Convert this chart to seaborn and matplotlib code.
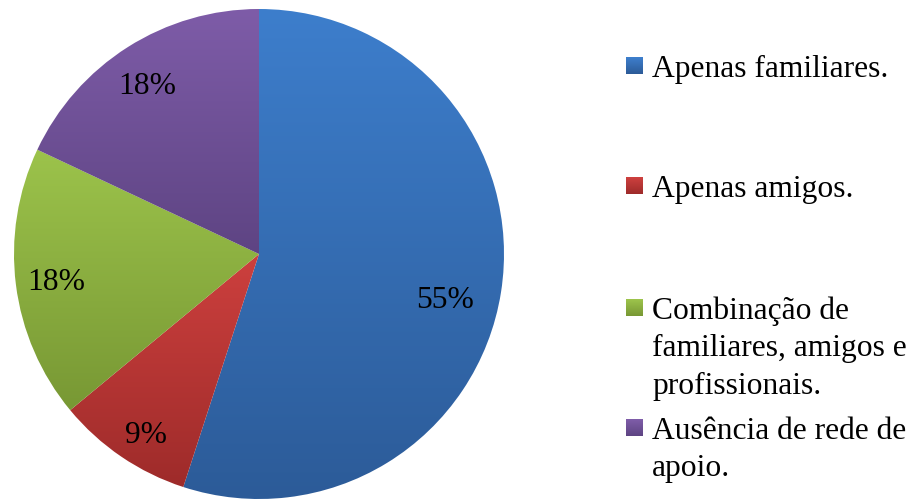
import numpy as np
import matplotlib
matplotlib.use("Agg")
import matplotlib.pyplot as plt
import seaborn as sns
from matplotlib.colors import LinearSegmentedColormap
from matplotlib.patches import Rectangle

sns.set_theme(style="white")
plt.rcParams["font.family"] = ["Liberation Serif", "DejaVu Serif"]

categories = ["Apenas familiares.", "Apenas amigos.",
              "Combinação de\nfamiliares, amigos e\nprofissionais.",
              "Ausência de rede de\napoio."]
values = [55, 9, 18, 18]
top_colors = ["#3D7ECC", "#CD403E", "#9CC34B", "#7E5CA8"]
bottom_colors = ["#2C5B98", "#9E2B2A", "#789834", "#5E4483"]

FS = 22.7
W, H = 911, 502
fig = plt.figure(figsize=(W / 100, H / 100), dpi=100)
cx, cy, R = 259, 255, 245
ax = fig.add_axes([(cx - R) / W, (H - cy - R) / H, 2 * R / W, 2 * R / H])

palette = sns.color_palette(top_colors)
wedges, texts, autotexts = ax.pie(
    values, colors=palette, startangle=90, counterclock=False,
    autopct="%1.0f%%", pctdistance=0.81, radius=1,
    textprops=dict(fontsize=FS, color="black"),
    wedgeprops=dict(linewidth=0))
ax.set_xlim(-1, 1)
ax.set_ylim(-1, 1)
ax.set_aspect("equal")
ax.axis("off")

# label placement (Excel best-fit positions, in pie-radius units)
label_pos = [(0.759, -0.184), (-0.461, -0.735), (-0.829, -0.114), (-0.457, 0.686)]
for t, p in zip(autotexts, label_pos):
    t.set_position(p)
    t.set_zorder(5)

# vertical gradient fill per slice (lighter at top, darker at bottom)
for w, tc, bc in zip(wedges, top_colors, bottom_colors):
    verts = w.get_path().vertices
    x0, x1 = verts[:, 0].min(), verts[:, 0].max()
    y0, y1 = verts[:, 1].min(), verts[:, 1].max()
    cmap = LinearSegmentedColormap.from_list("g", [bc, tc])
    grad = np.linspace(0, 1, 256).reshape(-1, 1)
    im = ax.imshow(grad, cmap=cmap, origin="lower", aspect="auto",
                   extent=[x0, x1, y0, y1], zorder=w.get_zorder() + 0.1)
    im.set_clip_path(w)
    w.set_facecolor("none")

# legend drawn as squares + text lines
baselines = [77, 197, 319, 439]
line_h = 37.5
sq_x, sq = 626, 17
tx = 652
for lab, tc, bc, b in zip(categories, top_colors, bottom_colors, baselines):
    for k in range(sq):
        frac = k / (sq - 1)
        col = (np.array(matplotlib.colors.to_rgb(tc)) * (1 - frac)
               + np.array(matplotlib.colors.to_rgb(bc)) * frac)
        fig.patches.append(Rectangle((sq_x / W, (H - (b - 19 + k) - 1) / H), sq / W, 1 / H,
                                     transform=fig.transFigure, facecolor=col, edgecolor="none"))
    for i, line in enumerate(lab.split("\n")):
        fig.text(tx / W, (H - (b + i * line_h)) / H, line, fontsize=FS,
                 va="baseline", ha="left", color="black")

fig.savefig("out.png", dpi=100)
